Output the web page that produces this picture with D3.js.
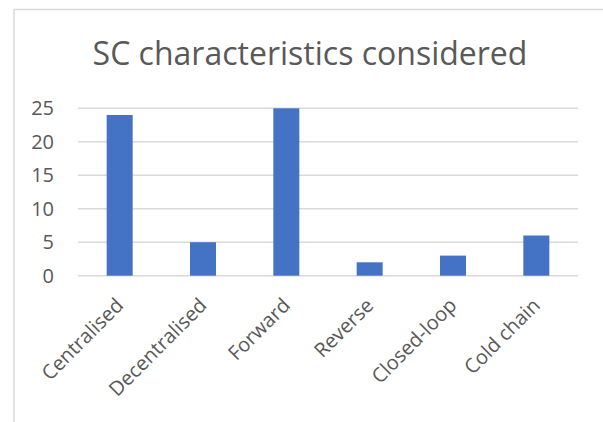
<!DOCTYPE html>
<html>
<head>
<meta charset="utf-8">
<script src="https://cdn.jsdelivr.net/npm/d3@7"></script>
<style>
  html, body { margin: 0; padding: 0; background: #fff; }
  svg { display: block; font-family: "Open Sans", "Noto Sans", sans-serif; }
</style>
</head>
<body>
<svg id="chart" width="603" height="422"></svg>
<script>
// SC characteristics counted across the reviewed studies
const categories = ["Centralised", "Decentralised", "Forward", "Reverse", "Closed-loop", "Cold chain"];
const counts = [24, 5, 25, 2, 3, 6];
const yTicks = [0, 5, 10, 15, 20, 25];
const titleText = "SC characteristics considered";

const FONT = '"Open Sans", "Noto Sans", sans-serif';
const svg = d3.select("#chart");
const W = 603, H = 422;
const plot = { left: 78, right: 578, top: 108.3, bottom: 275.7 };

// chart frame (top and left edges visible)
svg.append("rect").attr("width", W).attr("height", H).attr("fill", "#fff");
svg.append("path")
  .attr("d", `M14,${H} L14,9.5 L${W},9.5`)
  .attr("fill", "none").attr("stroke", "#d9d9d9").attr("stroke-width", 1.5);

const x = d3.scaleBand()
  .domain(categories)
  .range([plot.left, plot.right])
  .paddingInner(0.688)
  .paddingOuter(0.344);

const y = d3.scaleLinear().domain([0, 25]).range([plot.bottom, plot.top]);

// gridlines
svg.append("g")
  .selectAll("line")
  .data(yTicks)
  .join("line")
  .attr("x1", plot.left).attr("x2", plot.right)
  .attr("y1", d => y(d)).attr("y2", d => y(d))
  .attr("stroke", "#d9d9d9").attr("stroke-width", 1.5);

// y axis labels
const yAxis = d3.axisLeft(y).tickValues(yTicks).tickSize(0).tickPadding(24);
const yg = svg.append("g").attr("transform", `translate(${plot.left},0)`).call(yAxis)
  .attr("font-family", FONT).attr("font-size", "20px");
yg.select(".domain").remove();
yg.selectAll("text").attr("fill", "#595959");

// bars
svg.append("g")
  .selectAll("rect")
  .data(categories)
  .join("rect")
  .attr("x", d => x(d))
  .attr("width", x.bandwidth())
  .attr("y", (d, i) => y(counts[i]))
  .attr("height", (d, i) => y(0) - y(counts[i]))
  .attr("fill", "#4472C4");

// x axis labels, rotated
const xAxis = d3.axisBottom(x).tickSize(0).tickPadding(0);
const xg = svg.append("g").attr("transform", `translate(0,${plot.bottom})`).call(xAxis)
  .attr("font-family", FONT).attr("font-size", "20px");
xg.select(".domain").remove();
xg.selectAll("text")
  .attr("fill", "#595959")
  .attr("text-anchor", "end")
  .attr("dy", null)
  .attr("y", null)
  .attr("transform", "translate(5,31) rotate(-45)");

// title
svg.append("text")
  .attr("x", 310)
  .attr("y", 65)
  .attr("text-anchor", "middle")
  .attr("fill", "#595959")
  .attr("font-size", "32px")
  .text(titleText);
</script>
</body>
</html>
